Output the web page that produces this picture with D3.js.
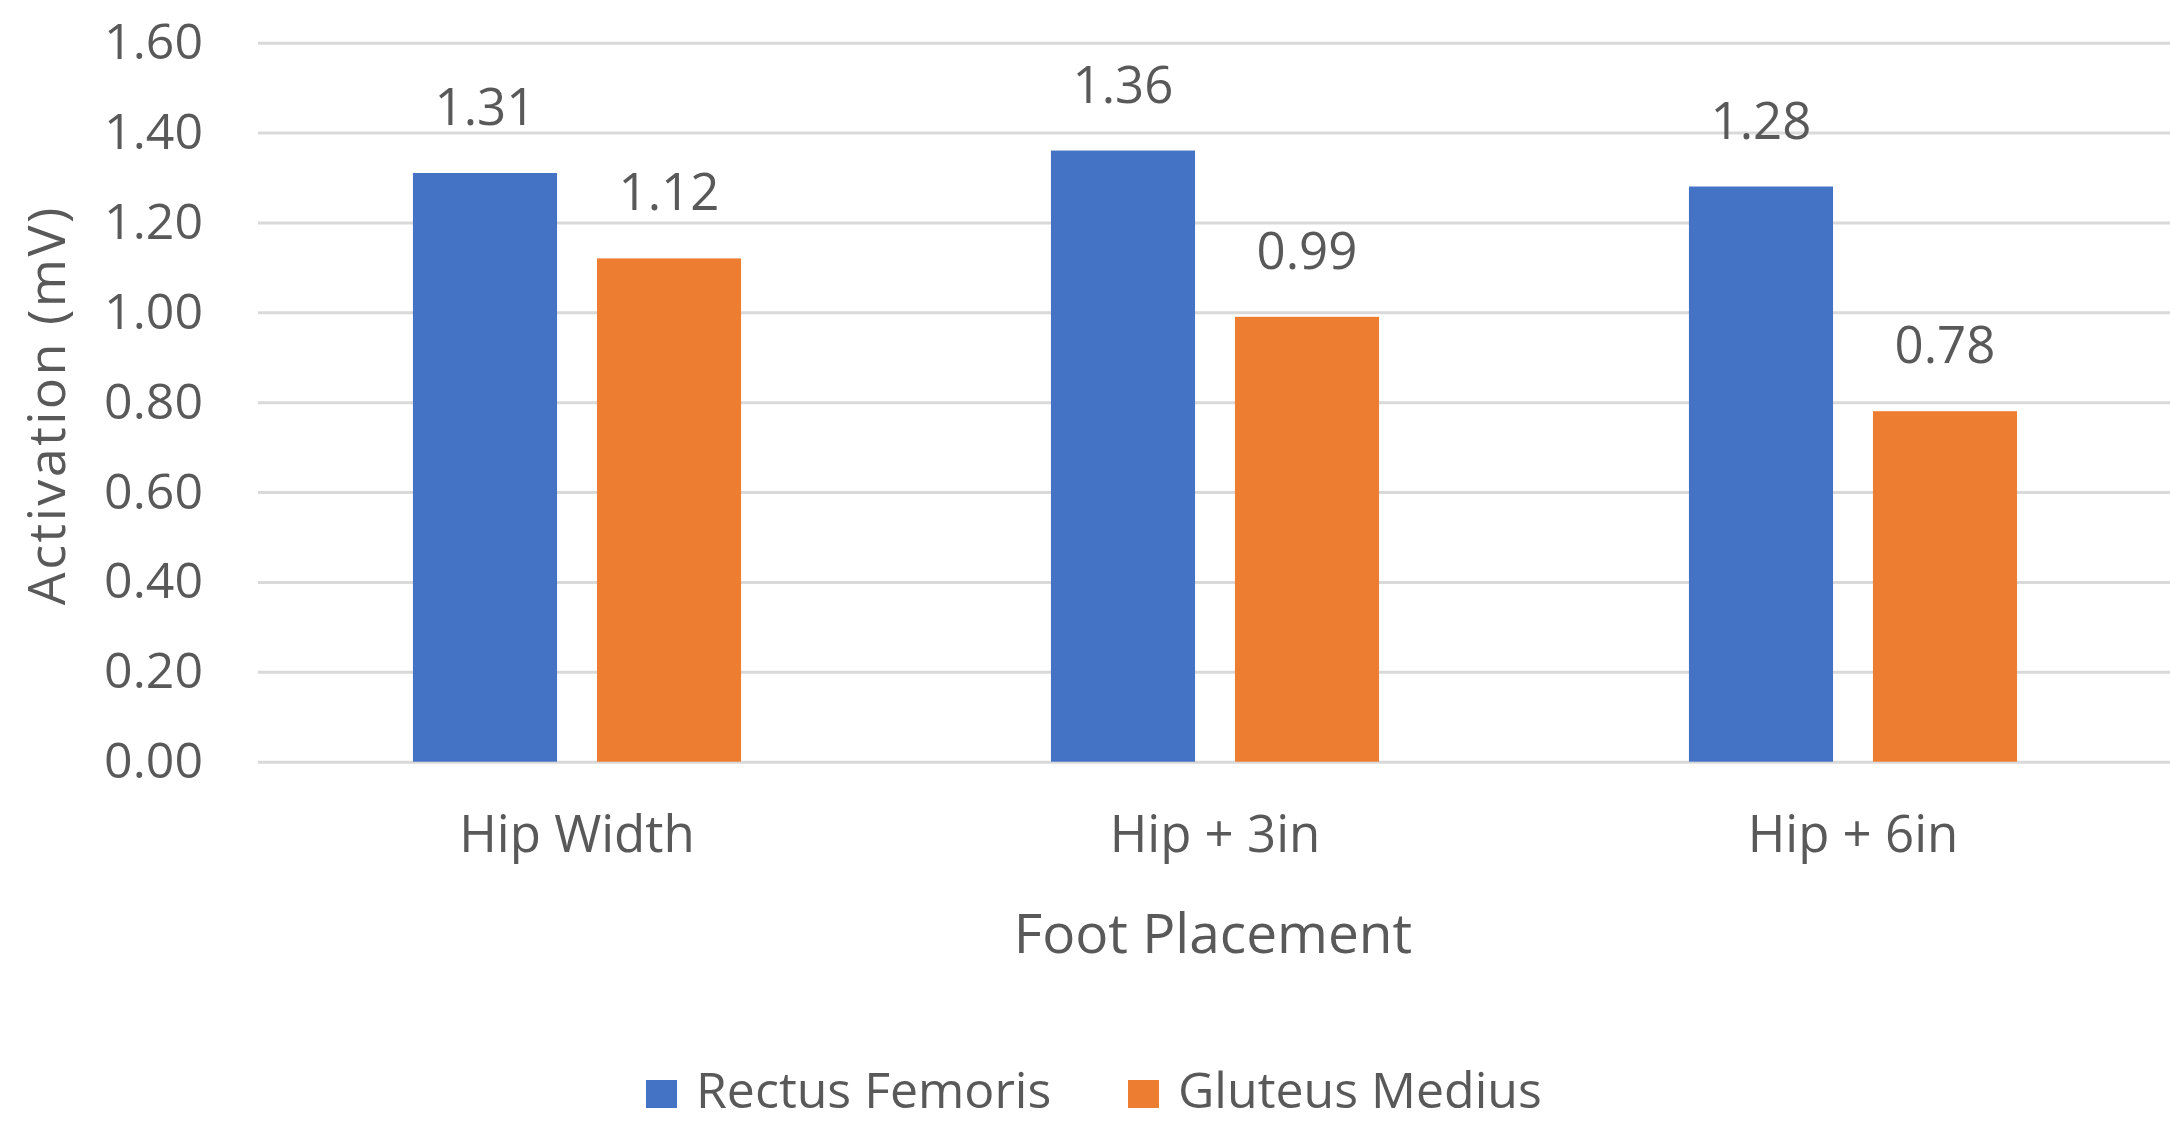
<!DOCTYPE html>
<html>
<head>
<meta charset="utf-8">
<script src="https://cdn.jsdelivr.net/npm/d3@7"></script>
<style>
  html, body { margin: 0; padding: 0; background: #ffffff; }
  svg { display: block; }
  text { font-family: "Open Sans", "Noto Sans", sans-serif; fill: #595959; }
</style>
</head>
<body>
<svg id="chart" width="2170" height="1122"></svg>
<script>
// Foot placement categories
const categories = ["Hip Width", "Hip + 3in", "Hip + 6in"];
// Muscle series
const seriesNames = ["Rectus Femoris", "Gluteus Medius"];
const rectusFemoris = [1.31, 1.36, 1.28];
const gluteusMedius = [1.12, 0.99, 0.78];
// Y axis ticks
const yTicks = [0, 0.2, 0.4, 0.6, 0.8, 1.0, 1.2, 1.4, 1.6];
const seriesColors = ["#4472C4", "#ED7D31"];

const seriesValues = [rectusFemoris, gluteusMedius];
const rows = categories.map((c, i) => ({
  category: c,
  values: seriesNames.map((s, j) => ({ series: s, value: seriesValues[j][i], idx: j }))
}));

const svg = d3.select("#chart");

const plot = { left: 258, right: 2172, top: 42.7, bottom: 761.7 };

const x = d3.scaleBand()
  .domain(categories)
  .range([plot.left, plot.right])
  .padding(0);

const xSub = d3.scaleBand()
  .domain(seriesNames)
  .range([0, x.bandwidth()])
  .paddingInner(0.217)
  .paddingOuter(0.842);

const y = d3.scaleLinear()
  .domain([0, 1.6])
  .range([plot.bottom, plot.top]);

// Horizontal gridlines with tick labels
const yAxis = d3.axisLeft(y)
  .tickValues(yTicks)
  .tickSize(-(plot.right - plot.left))
  .tickPadding(55)
  .tickFormat(d3.format(".2f"));

const gy = svg.append("g")
  .attr("transform", `translate(${plot.left},0)`)
  .call(yAxis);
gy.select(".domain").remove();
gy.selectAll(".tick line")
  .attr("stroke", "#d9d9d9")
  .attr("stroke-width", 3);
gy.selectAll(".tick text")
  .attr("font-size", 50)
  .attr("fill", "#595959")
  .style("font-family", "'Open Sans', sans-serif");

// Bars
const groups = svg.append("g")
  .selectAll("g")
  .data(rows)
  .join("g")
  .attr("transform", d => `translate(${x(d.category)},0)`);

groups.selectAll("rect")
  .data(d => d.values)
  .join("rect")
  .attr("x", d => xSub(d.series))
  .attr("width", xSub.bandwidth())
  .attr("y", d => y(d.value))
  .attr("height", d => y(0) - y(d.value))
  .attr("fill", d => seriesColors[d.idx]);

// Value labels above bars
groups.selectAll("text.value")
  .data(d => d.values)
  .join("text")
  .attr("class", "value")
  .attr("x", d => xSub(d.series) + xSub.bandwidth() / 2)
  .attr("y", d => y(d.value) - 48)
  .attr("text-anchor", "middle")
  .attr("font-size", 51)
  .text(d => d.value.toFixed(2));

// Category labels
svg.append("g")
  .selectAll("text")
  .data(categories)
  .join("text")
  .attr("x", d => x(d) + x.bandwidth() / 2)
  .attr("y", 852)
  .attr("text-anchor", "middle")
  .attr("font-size", 51)
  .text(d => d);

// Axis titles
svg.append("text")
  .attr("x", (plot.left + plot.right) / 2 - 2)
  .attr("y", 953)
  .attr("text-anchor", "middle")
  .attr("font-size", 55)
  .text("Foot Placement");

svg.append("text")
  .attr("transform", `translate(65,${(plot.top + plot.bottom) / 2 + 3}) rotate(-90)`)
  .attr("text-anchor", "middle")
  .attr("font-size", 52)
  .attr("letter-spacing", 2.5)
  .text("Activation (mV)");

// Legend
const legendX = [646, 1128];
const legend = svg.append("g")
  .selectAll("g")
  .data(seriesNames)
  .join("g")
  .attr("transform", (d, i) => `translate(${legendX[i]},0)`);

legend.append("rect")
  .attr("x", 0)
  .attr("y", 1080)
  .attr("width", 31)
  .attr("height", 28)
  .attr("fill", (d, i) => seriesColors[i]);

legend.append("text")
  .attr("x", 50)
  .attr("y", 1108)
  .attr("font-size", 50)
  .text(d => d);
</script>
</body>
</html>
